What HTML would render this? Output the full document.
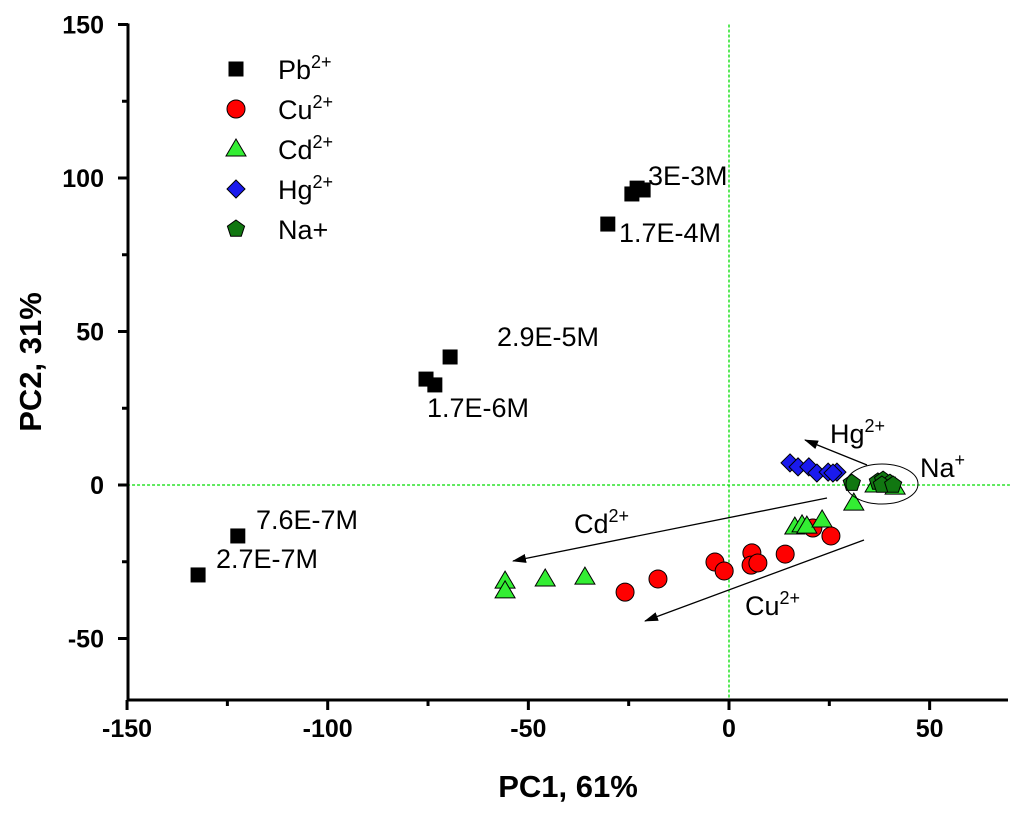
<!DOCTYPE html>
<html><head><meta charset="utf-8"><style>
body{margin:0;background:#fff}
svg text{font-family:"Liberation Sans",Arial,sans-serif}
</style></head><body>
<svg id="c" width="1024" height="813" xmlns="http://www.w3.org/2000/svg">
<g id="plot"></g>
</svg>
<script>
const xTicks=[-150,-100,-50,0,50];
const yTicks=[-50,0,50,100,150];
const pbX=[-21.4,-22.9,-24.2,-30.2,-69.5,-75.5,-73.3,-122.4,-132.3];
const pbY=[96.1,96.7,94.8,85.0,41.7,34.5,32.6,-16.6,-29.3];
const cuX=[-25.9,-17.7,-3.5,-1.2,5.7,5.5,7.2,14.0,20.9,25.4];
const cuY=[-34.9,-30.6,-25.1,-28.0,-22.1,-26.1,-25.4,-22.5,-14.0,-16.6];
const cdX=[-55.8,-55.8,-45.8,-35.9,16.4,18.2,19.4,23.2,31.1,41.4,36.4];
const cdY=[-31.3,-34.5,-30.6,-30.0,-13.7,-13.0,-13.4,-11.4,-5.9,-0.7,0];
const hgX=[15.2,17.2,19.9,21.9,24.7,26.9,25.9];
const hgY=[7.2,5.9,5.9,3.9,4.2,4.2,3.9];
const naX=[30.6,37.1,38.4,40.1,38.1,40.9];
const naY=[0.6,1.0,1.6,0.6,0,0];
const X=v=>729+(v)*4.013, Y=v=>485-(v)*3.07;
const NS="http://www.w3.org/2000/svg";
const g=document.getElementById('plot');
function mk(t,a,p){const e=document.createElementNS(NS,t);for(const k in a)e.setAttribute(k,a[k]);(p||g).appendChild(e);return e;}
let e=mk('line',{x1:X(-150),x2:X(70),y1:Y(0),y2:Y(0),stroke:'#00dd00','stroke-width':1.3,'stroke-dasharray':'3,2'});


e=mk('line',{x1:X(0),x2:X(0),y1:Y(150),y2:Y(-70),stroke:'#00dd00','stroke-width':1.3,'stroke-dasharray':'3,2'});


e=mk('line',{x1:128,x2:1008,y1:700,y2:700,stroke:'#000','stroke-width':3});


e=mk('line',{x1:128,x2:128,y1:Y(150)-1,y2:701.5,stroke:'#000','stroke-width':3});


xTicks.forEach((v,i)=>{
  e=mk('line',{x1:X(v),x2:X(v),y1:700,y2:710,stroke:'#000','stroke-width':3});
  
  
  e=mk('line',{x1:X(v+25),x2:X(v+25),y1:700,y2:706,stroke:'#000','stroke-width':3});
  
  
  e=mk('text',{x:X(v),y:737,'text-anchor':'middle','font-size':25,'font-weight':'bold'});
  e.textContent=v;
  
  
});
yTicks.forEach(v=>{
  e=mk('line',{x1:118,x2:128,y1:Y(v),y2:Y(v),stroke:'#000','stroke-width':3});
  
  
  if(v<150){e=mk('line',{x1:122,x2:128,y1:Y(v+25),y2:Y(v+25),stroke:'#000','stroke-width':3});
  
  }
  e=mk('text',{x:104,y:Y(v)+9,'text-anchor':'end','font-size':25,'font-weight':'bold'});
  e.textContent=v;
  
  
});
e=mk('text',{x:568,y:797,'text-anchor':'middle','font-size':31,'font-weight':'bold'});
e.textContent='PC1, 61%';


e=mk('text',{x:0,y:0,'text-anchor':'middle','font-size':31,'font-weight':'bold',transform:'translate(41,362) rotate(-90)'});
e.textContent='PC2, 31%';


function sq(x,y,p){return mk('rect',{x:x-7.5,y:y-7.5,width:15,height:15,fill:'#000'},p);}
function ci(x,y,p){return mk('circle',{cx:x,cy:y,r:9,fill:'#f00',stroke:'#000','stroke-width':1},p);}
function tr(x,y,p){return mk('polygon',{points:`${x},${y-10} ${x+10},${y+7} ${x-10},${y+7}`,fill:'#33ee33',stroke:'#000','stroke-width':1},p);}
function di(x,y,p){return mk('polygon',{points:`${x},${y-9} ${x+9},${y} ${x},${y+9} ${x-9},${y}`,fill:'#1a1aee',stroke:'#000','stroke-width':1},p);}
function pe(x,y,p){let pts=[];for(let i=0;i<5;i++){const a=-Math.PI/2+i*2*Math.PI/5;pts.push((x+9*Math.cos(a)).toFixed(1)+','+(y+9*Math.sin(a)).toFixed(1));}return mk('polygon',{points:pts.join(' '),fill:'#117711',stroke:'#000','stroke-width':1},p);}
function series(xs,ys,f,name){const sg=mk('g',{});
 xs.forEach((v,i)=>{const m=f(X(v),Y(ys[i]),sg);
 
 });}
series(pbX,pbY,sq,'pb');
series(hgX,hgY,di,'hg');
series(cuX,cuY,ci,'cu');
series(cdX,cdY,tr,'cd');
series(naX,naY,pe,'na');
e=mk('ellipse',{cx:882,cy:484,rx:36,ry:20,fill:'none',stroke:'#000','stroke-width':1});


const defs=mk('defs',{});const mkr=mk('marker',{id:'ah',markerWidth:14,markerHeight:9,refX:13,refY:4.5,orient:'auto',markerUnits:'userSpaceOnUse'},defs);
mk('polygon',{points:'0,0 14,4.5 0,9',fill:'#000'},mkr);
[[867,465,805,440,'hg-arrow'],[827,498,513,561,'cd-arrow'],[864,540,645,621,'cu-arrow']].forEach(a=>{
 e=mk('line',{x1:a[0],y1:a[1],x2:a[2],y2:a[3],stroke:'#000','stroke-width':1.3,'marker-end':'url(#ah)'});
 
 });
function ann(x,y,t,sup,name){const tx=mk('text',{x:x,y:y,'font-size':27});
 tx.appendChild(document.createTextNode(t));if(sup){const ts=mk('tspan',{dy:-11,'font-size':18},tx);ts.textContent=sup;}}
ann(648,185,'3E-3M','', 'label-3e-3m');
ann(619,242,'1.7E-4M','','label-1-7e-4m');
ann(497,346,'2.9E-5M','','label-2-9e-5m');
ann(427,417,'1.7E-6M','','label-1-7e-6m');
ann(256,529,'7.6E-7M','','label-7-6e-7m');
ann(216,568,'2.7E-7M','','label-2-7e-7m');
ann(830,443,'Hg','2+','hg-arrow-label');
ann(920,477,'Na','+','na-label');
ann(574,533,'Cd','2+','cd-arrow-label');
ann(745,615,'Cu','2+','cu-arrow-label');
const lg=mk('g',{});
const lf=[sq,ci,tr,di,pe],ln=[['Pb','2+'],['Cu','2+'],['Cd','2+'],['Hg','2+'],['Na+','']];
lf.forEach((f,i)=>{const y=69+i*40;const m=f(236,y,lg);
 const tx=mk('text',{x:278,y:y+10,'font-size':27},lg);
 tx.appendChild(document.createTextNode(ln[i][0]));if(ln[i][1]){const ts=mk('tspan',{dy:-11,'font-size':18},tx);ts.textContent=ln[i][1];}});
</script>
</body></html>
